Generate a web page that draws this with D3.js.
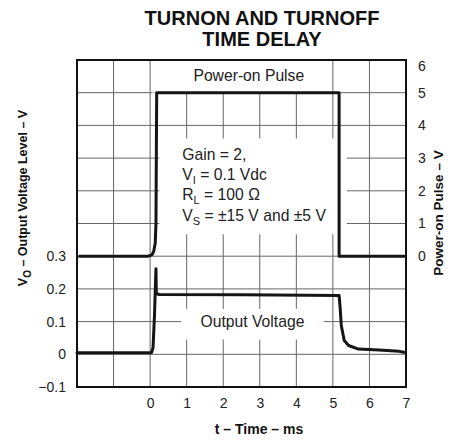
<!DOCTYPE html>
<html>
<head>
<meta charset="utf-8">
<script src="https://cdn.jsdelivr.net/npm/d3@7"></script>
<style>
  html, body { margin: 0; padding: 0; background: #fff; }
  svg { display: block; font-family: "Liberation Sans", Arial, Helvetica, sans-serif; }
</style>
</head>
<body>
<svg id="chart" width="451" height="441"></svg>
<script>
// Time axis (ms) and tick labels
const timeTicks = [0, 1, 2, 3, 4, 5, 6, 7];
const leftTicks = [-0.1, 0, 0.1, 0.2, 0.3];
const rightTicks = [0, 1, 2, 3, 4, 5, 6];

// Power-on pulse (right axis, V): [t ms, V]
const pulseT = [-1.93, -0.05, 0.05, 0.1, 0.14, 0.16, 0.18, 5.17, 5.17, 6.95];
const pulseV = [0.0, 0.0, 0.04, 0.15, 0.4, 1.0, 5.0, 5.0, 0.0, 0.0];

// Output voltage (left axis, V): [t ms, V]
const outT = [-2.0, -0.5, 0.04, 0.08, 0.12, 0.16, 0.17, 0.25, 2.5, 5.17, 5.2, 5.23, 5.31, 5.43, 5.7, 6.26, 6.81, 6.95];
const outV = [0.005, 0.005, 0.005, 0.02, 0.12, 0.262, 0.186, 0.183, 0.182, 0.18, 0.14, 0.088, 0.042, 0.027, 0.016, 0.013, 0.009, 0.006];

const svg = d3.select("#chart");
const W = { left: 77, right: 406, top: 60, bottom: 387 };

const x = d3.scaleLinear().domain([-2, 7]).range([W.left, W.right]);
const yL = d3.scaleLinear().domain([-0.1, 0.9]).range([W.bottom, W.top]);
const yR = d3.scaleLinear().domain([-4, 6]).range([W.bottom, W.top]);

// Title, two lines
svg.append("text").attr("x", 262).attr("y", 25).attr("text-anchor", "middle")
  .attr("font-weight", "bold").attr("font-size", 20).attr("fill", "#111")
  .text("TURNON AND TURNOFF");
svg.append("text").attr("x", 262).attr("y", 46).attr("text-anchor", "middle")
  .attr("font-weight", "bold").attr("font-size", 20).attr("fill", "#111")
  .text("TIME DELAY");

// Grid
const grid = svg.append("g").attr("stroke", "#666").attr("stroke-width", 1);
grid.selectAll("line.v").data(d3.range(-1, 7)).join("line")
  .attr("x1", d => x(d)).attr("x2", d => x(d))
  .attr("y1", W.top).attr("y2", W.bottom);
grid.selectAll("line.h").data(d3.range(-3, 6)).join("line")
  .attr("x1", W.left).attr("x2", W.right)
  .attr("y1", d => yR(d)).attr("y2", d => yR(d));

// Label backgrounds that break the grid
const boxes = svg.append("g").attr("fill", "#fff");
boxes.append("rect")   // Power-on Pulse label
  .attr("x", x(0.06)).attr("y", yR(6))
  .attr("width", x(4.94) - x(0.06)).attr("height", yR(5) - yR(6));
boxes.append("rect")   // conditions block
  .attr("x", x(0.25)).attr("y", yR(3.6))
  .attr("width", x(5.38) - x(0.25)).attr("height", yR(0.67) - yR(3.6));
boxes.append("rect")   // Output Voltage label
  .attr("x", x(0.85)).attr("y", yL(0.139))
  .attr("width", x(4.75) - x(0.85)).attr("height", yL(0.045) - yL(0.139));

// Frame
svg.append("rect")
  .attr("x", W.left).attr("y", W.top)
  .attr("width", W.right - W.left).attr("height", W.bottom - W.top)
  .attr("fill", "none").attr("stroke", "#111").attr("stroke-width", 2);

// Traces
const pulseLine = d3.line().x((d, i) => x(pulseT[i])).y((d, i) => yR(pulseV[i]));
const outLine = d3.line().x((d, i) => x(outT[i])).y((d, i) => yL(outV[i]));
svg.append("path").attr("d", pulseLine(pulseT))
  .attr("fill", "none").attr("stroke", "#151515").attr("stroke-width", 3)
  .attr("stroke-linejoin", "round").attr("stroke-linecap", "round");
svg.append("path").attr("d", outLine(outT))
  .attr("fill", "none").attr("stroke", "#151515").attr("stroke-width", 3)
  .attr("stroke-linejoin", "round").attr("stroke-linecap", "round");

// Axes (labels only)
const tickFont = 14;
const bx = svg.append("g").attr("transform", `translate(0,${W.bottom + 8})`)
  .call(d3.axisBottom(x).tickValues(timeTicks).tickSize(0).tickFormat(d3.format("d")));
const ly = svg.append("g").attr("transform", `translate(${W.left - 8},0)`)
  .call(d3.axisLeft(yL).tickValues(leftTicks).tickSize(0)
    .tickFormat(d => d < 0 ? "\u2212" + Math.abs(d).toFixed(1) : (d === 0 ? "0" : d.toFixed(1))));
const ry = svg.append("g").attr("transform", `translate(${W.right + 9},0)`)
  .call(d3.axisRight(yR).tickValues(rightTicks).tickSize(0).tickFormat(d3.format("d")));
[bx, ly, ry].forEach(g => {
  g.select(".domain").remove();
  g.selectAll("text").attr("font-size", tickFont).attr("fill", "#222")
    .attr("font-family", "'Liberation Sans', Arial, sans-serif");
});
// top label on the right sits just inside the frame
ry.selectAll(".tick").filter(d => d === 6).select("text").attr("y", 6);

// Axis titles
svg.append("text").attr("x", 259).attr("y", 434).attr("text-anchor", "middle")
  .attr("font-weight", "bold").attr("font-size", 14).attr("fill", "#111")
  .text("t \u2013 Time \u2013 ms");

const lt = svg.append("text").attr("transform", "translate(27,198) rotate(-90)")
  .attr("text-anchor", "middle").attr("font-weight", "bold").attr("font-size", 12.5).attr("fill", "#111");
lt.append("tspan").text("V");
lt.append("tspan").attr("font-size", 10).attr("dy", 4).text("O");
lt.append("tspan").attr("dy", -4).text(" \u2013 Output Voltage Level \u2013 V");

svg.append("text").attr("transform", "translate(443,213) rotate(-90)")
  .attr("text-anchor", "middle").attr("font-weight", "bold").attr("font-size", 13.5).attr("fill", "#111")
  .text("Power-on Pulse \u2013 V");

// In-plot labels
const lblFont = 15.7;
svg.append("text").attr("x", x(2.7)).attr("y", yR(5.35)).attr("text-anchor", "middle")
  .attr("font-size", lblFont).attr("fill", "#222").text("Power-on Pulse");
svg.append("text").attr("x", x(2.8)).attr("y", yL(0.085)).attr("text-anchor", "middle")
  .attr("font-size", lblFont).attr("fill", "#222").text("Output Voltage");

const cond = svg.append("g").attr("font-size", lblFont).attr("fill", "#222");
const cx = x(0.88);
cond.append("text").attr("x", cx).attr("y", 160).text("Gain = 2,");
const c2 = cond.append("text").attr("x", cx).attr("y", 180);
c2.append("tspan").text("V");
c2.append("tspan").attr("font-size", 11).attr("dy", 4).text("I");
c2.append("tspan").attr("dy", -4).text(" = 0.1 Vdc");
const c3 = cond.append("text").attr("x", cx).attr("y", 200);
c3.append("tspan").text("R");
c3.append("tspan").attr("font-size", 11).attr("dy", 4).text("L");
c3.append("tspan").attr("dy", -4).text(" = 100 \u03A9");
const c4 = cond.append("text").attr("x", cx).attr("y", 221);
c4.append("tspan").text("V");
c4.append("tspan").attr("font-size", 11).attr("dy", 4).text("S");
c4.append("tspan").attr("dy", -4).text(" = \u00B115 V and \u00B15 V");
</script>
</body>
</html>
